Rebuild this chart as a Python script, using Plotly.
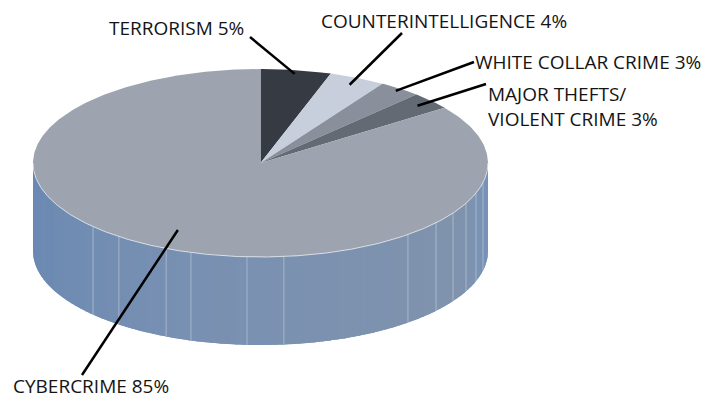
import numpy as np
import plotly.graph_objects as go

# Share of cases by category (percent), clockwise from 12 o'clock
categories = ["TERRORISM", "COUNTERINTELLIGENCE", "WHITE COLLAR CRIME",
              "MAJOR THEFTS/<br>VIOLENT CRIME", "CYBERCRIME"]
values = [5, 4, 3, 3, 85]
top_colors = ["#363a42", "#c8cfdc", "#8a909b", "#646a74", "#9ea4af"]

# Pie geometry in page pixels
W, H = 717, 400
CX, CY = 260.5, 163.0
RX, RY = 227.5, 94.0
DEPTH = 88.0

# Label placement: (x, y, xanchor, leader outer end, leader depth into slice)
label_pos = [
    (246, 28, "right", (250, 37), 0.96),
    (319, 21, "left", (402, 33), 0.92),
    (473, 62, "left", (474, 62), 0.97),
    (486, 106, "left", (486, 84), 0.92),
    (11, 386, "left", (82, 375), 0.80),
]

# Side facet edges (degrees clockwise from top)
facet_angles = [102, 108.7, 115.4, 122.2, 129.5, 139.6, 174.1, 183.4,
                197.8, 204.5, 218.5, 227.4]


def pt(theta_deg, frac=1.0, dz=0.0):
    t = np.radians(theta_deg)
    return CX + frac * RX * np.sin(t), CY - frac * RY * np.cos(t) + dz


def arc(a0, a1, dz=0.0, step=0.5):
    n = max(2, int(abs(a1 - a0) / step) + 1)
    th = np.linspace(a0, a1, n)
    return pt(th, 1.0, dz)


fig = go.Figure()

# ---- side wall of the front half (only the large slice shows it) ----
side_stops = [(90, (116, 146, 188)), (120, (128, 147, 173)),
              (200, (120, 144, 178)), (270, (104, 136, 178))]


def side_color(a):
    angs = [s[0] for s in side_stops]
    rgb = [np.interp(a, angs, [s[1][k] for s in side_stops]) for k in range(3)]
    return "rgb(%d,%d,%d)" % tuple(int(round(v)) for v in rgb)


cum = np.cumsum([0] + values)
starts = cum[:-1] / cum[-1] * 360.0
ends = cum[1:] / cum[-1] * 360.0
s0 = max(90.0, starts[-1])
s1 = min(270.0, ends[-1])

xt, yt = arc(s0, s1)
xb, yb = arc(s1, s0, DEPTH)
fig.add_trace(go.Scatter(x=np.r_[xt, xb, xt[0]], y=np.r_[yt, yb, yt[0]],
                         fill="toself", fillcolor=side_color(180), mode="lines",
                         line=dict(width=0), hoverinfo="skip", showlegend=False))
strip = 2.0
a = s0
while a < s1 - 1e-9:
    b = min(a + strip + 0.4, s1)
    xt, yt = arc(a, b, step=0.2)
    xb, yb = arc(b, a, DEPTH, step=0.2)
    fig.add_trace(go.Scatter(x=np.r_[xt, xb, xt[0]], y=np.r_[yt, yb, yt[0]],
                             fill="toself", fillcolor=side_color(a + strip / 2),
                             mode="lines", line=dict(width=0),
                             hoverinfo="skip", showlegend=False))
    a += strip

for fa in facet_angles:
    x0, y0 = pt(fa)
    x1, y1 = pt(fa, 1.0, DEPTH)
    fig.add_trace(go.Scatter(x=[x0, x1], y=[y0, y1], mode="lines",
                             line=dict(color="rgba(205,214,228,0.55)", width=1),
                             hoverinfo="skip", showlegend=False))

# ---- top face slices ----
for a0, a1, col in zip(starts, ends, top_colors):
    xs, ys = arc(a0, a1)
    fig.add_trace(go.Scatter(x=np.r_[CX, xs, CX], y=np.r_[CY, ys, CY],
                             fill="toself", fillcolor=col, mode="lines",
                             line=dict(width=0), hoverinfo="skip",
                             showlegend=False))

# thin highlight along the front rim
xh, yh = arc(s0, s1)
fig.add_trace(go.Scatter(x=xh, y=yh, mode="lines",
                         line=dict(color="rgba(225,230,238,0.85)", width=1),
                         hoverinfo="skip", showlegend=False))

# ---- leader lines and labels ----
for name, v, a0, a1, (lx, ly, anc, (ox, oy), frac) in zip(
        categories, values, starts, ends, label_pos):
    ix, iy = pt((a0 + a1) / 2, frac)
    fig.add_trace(go.Scatter(x=[ox, ix], y=[oy, iy], mode="lines",
                             line=dict(color="#000000", width=2.5),
                             hoverinfo="skip", showlegend=False))
    fig.add_annotation(x=lx, y=ly, xref="x", yref="y", text=f"{name} {v}%",
                       showarrow=False, xanchor=anc, yanchor="middle",
                       align="left",
                       font=dict(family="Open Sans", size=19, color="#141414"))

fig.update_xaxes(range=[0, W], visible=False, fixedrange=True)
fig.update_yaxes(range=[H, 0], visible=False, fixedrange=True)
fig.update_layout(width=W, height=H, margin=dict(l=0, r=0, t=0, b=0),
                  paper_bgcolor="white", plot_bgcolor="white")

fig.write_html("out.html")
